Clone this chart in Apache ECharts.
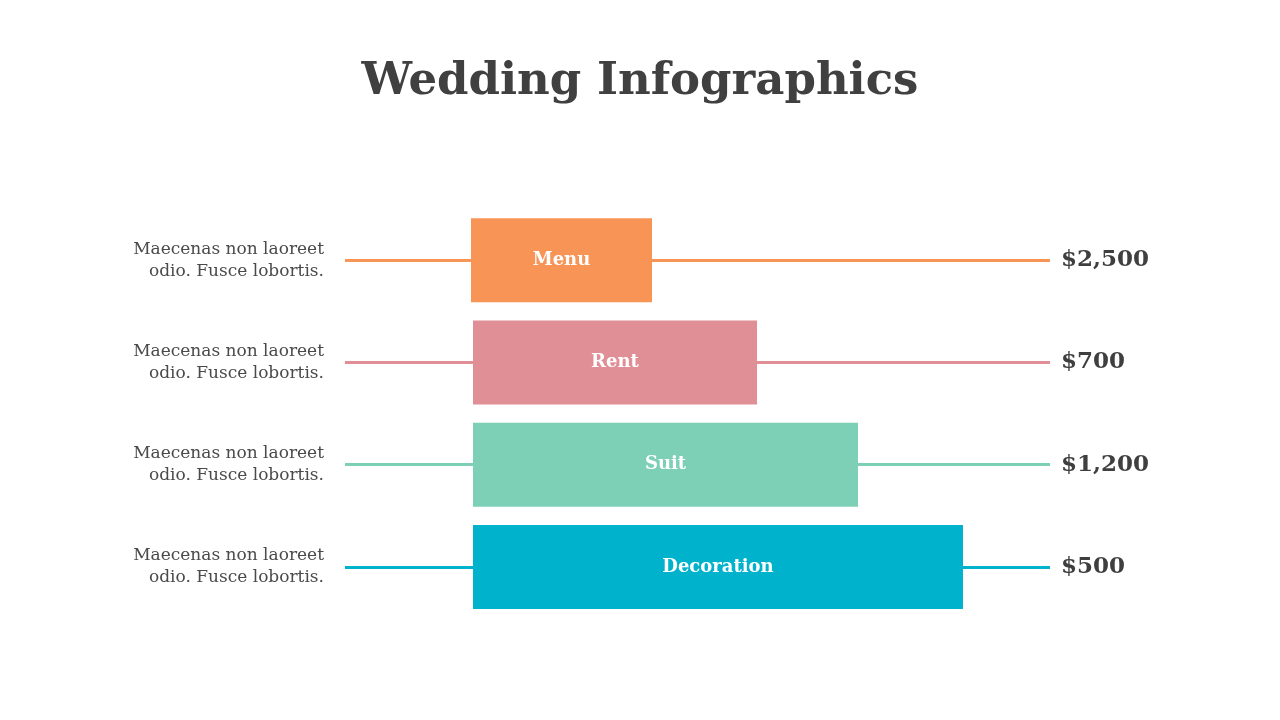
<!DOCTYPE html>
<html>
<head>
<meta charset="utf-8">
<script src="https://cdn.jsdelivr.net/npm/echarts@6/dist/echarts.min.js"></script>
<style>
  html, body { margin: 0; padding: 0; background: #fff; }
  #main { width: 1280px; height: 720px; }
</style>
</head>
<body>
<div id="main"></div>
<script>
// data
var categories = ['Menu', 'Rent', 'Suit', 'Decoration'];
var barLengths = [181, 284, 385, 490];   // bar length (decorative scale)
var offsets = [126, 128, 128, 128];      // empty space before each bar
var prices = ['$2,500', '$700', '$1,200', '$500'];
var notes = ['Maecenas non laoreet\nodio. Fusce lobortis.',
             'Maecenas non laoreet\nodio. Fusce lobortis.',
             'Maecenas non laoreet\nodio. Fusce lobortis.',
             'Maecenas non laoreet\nodio. Fusce lobortis.'];
var colors = ['#F79456', '#E08F96', '#7DD0B6', '#00B2CB'];

var serif = '"DejaVu Serif", "Liberation Serif", serif';

window.onload = function () {
    var chart = echarts.init(document.getElementById('main'));

    var option = {
        backgroundColor: '#ffffff',
        title: {
            text: 'Wedding Infographics',
            left: 'center',
            top: 55,
            textStyle: {
                fontFamily: serif,
                fontSize: 45,
                fontWeight: 'bold',
                color: '#404040'
            }
        },
        grid: { left: 345, right: 230, top: 209, bottom: 102 },
        xAxis: {
            type: 'value',
            min: 0,
            max: 705,
            show: false
        },
        yAxis: [
            {
                type: 'category',
                data: categories,
                inverse: true,
                axisLine: { show: false },
                axisTick: { show: false },
                axisLabel: {
                    margin: 21,
                    align: 'right',
                    fontFamily: serif,
                    fontSize: 17,
                    lineHeight: 22,
                    padding: [0, 0, 3, 0],
                    color: '#4a4a4a',
                    formatter: function (v, i) { return notes[i]; }
                }
            },
            {
                type: 'category',
                data: categories,
                inverse: true,
                position: 'right',
                axisLine: { show: false },
                axisTick: { show: false },
                axisLabel: {
                    margin: 11,
                    align: 'left',
                    fontFamily: serif,
                    fontSize: 23,
                    fontWeight: 'bold',
                    color: '#3f3f3f',
                    formatter: function (v, i) { return prices[i]; }
                }
            }
        ],
        series: [
            {
                name: 'offset',
                type: 'bar',
                stack: 'all',
                barWidth: 84,
                itemStyle: { color: 'transparent' },
                data: offsets,
                z: 1,
                markLine: {
                    symbol: 'none',
                    silent: true,
                    label: { show: false },
                    data: categories.map(function (c, i) {
                        return { yAxis: c, lineStyle: { color: colors[i], width: 3, type: 'solid' } };
                    })
                }
            },
            {
                name: 'bars',
                type: 'bar',
                stack: 'all',
                barWidth: 84,
                z: 5,
                data: barLengths.map(function (v, i) {
                    return { value: v, itemStyle: { color: colors[i] } };
                }),
                label: {
                    show: true,
                    position: 'inside',
                    fontFamily: serif,
                    fontSize: 18,
                    fontWeight: 'bold',
                    color: '#ffffff',
                    formatter: function (p) { return categories[p.dataIndex]; }
                }
            }
        ]
    };

    chart.setOption(option);
};
</script>
</body>
</html>
